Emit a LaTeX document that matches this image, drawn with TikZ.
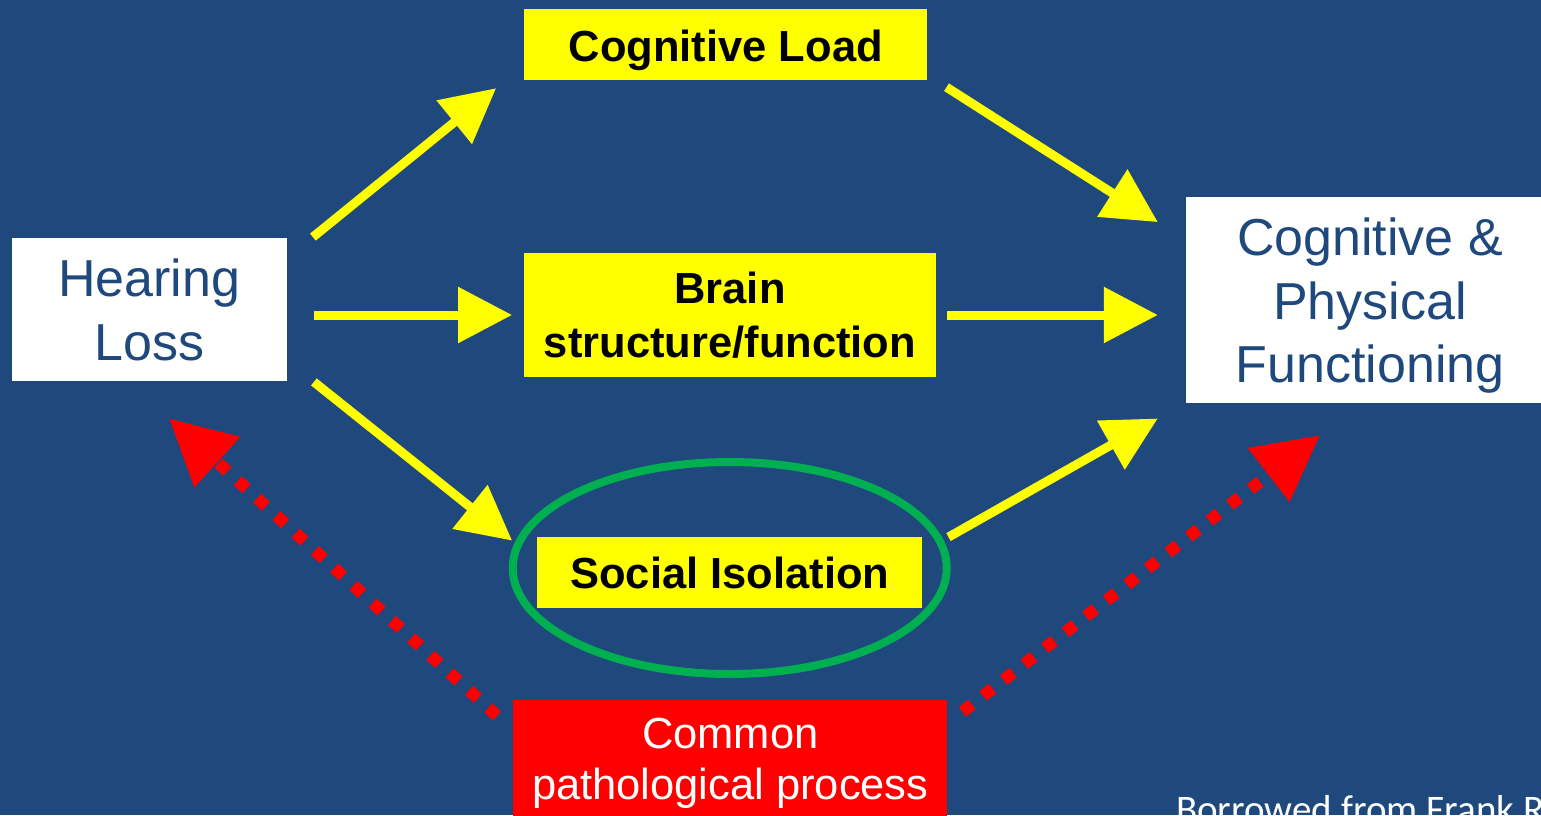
\documentclass[tikz,border=0pt]{standalone}
\usepackage{fontspec}
\setmainfont{Liberation Sans}
\newfontfamily\borrowfont{Carlito}
\usetikzlibrary{arrows.meta,shapes.geometric}
\definecolor{slideblue}{HTML}{1F497D}
\definecolor{boxyellow}{HTML}{FFFF00}
\definecolor{ringgreen}{HTML}{00B050}
\definecolor{procred}{HTML}{FF0000}

\begin{document}
\begin{tikzpicture}[x=1pt,y=-1pt]
\tikzstyle{every node}+=[inner sep=0pt]
\tikzstyle{whitebox}=[fill=white, text=slideblue, align=center, font={\fontsize{52}{63.5}\selectfont}]
\tikzstyle{yellowbox}=[fill=boxyellow, text=black, align=center, font={\fontsize{43.5}{54}\selectfont\bfseries}]
\tikzstyle{redbox}=[fill=procred, text=white, align=center, font={\fontsize{43.5}{51}\selectfont}]
\tikzstyle{yarrow}=[draw=boxyellow, line width=9pt, -{Triangle[length=54pt,width=54pt]}]
\tikzstyle{rarrow}=[draw=procred, line width=12pt, dash pattern=on 12pt off 14pt, -{Triangle[length=65pt,width=65pt]}]
\clip (0,0) rectangle (1541,815);
\fill [slideblue] (0,0) rectangle (1541,815);
\node [whitebox, minimum width=275pt, minimum height=142.4pt, text depth=0pt] (hl) at (149.2,309.5) {Hearing\\Loss};
\node [yellowbox, minimum width=403pt, minimum height=70.7pt, text height=34pt, text depth=0pt] (cl) at (725.8,44.65) {Cognitive Load};
\node [yellowbox, minimum width=411.4pt, minimum height=123.4pt, text depth=0pt] (bsf) at (730,315) {Brain\\structure/function};
\node [draw=ringgreen, line width=8pt, ellipse, minimum width=434pt, minimum height=212pt] (ring) at (729.75,568) {};
\node [yellowbox, minimum width=385pt, minimum height=70.4pt, text height=31.6pt, text depth=0pt] (si) at (729.8,572.5) {Social Isolation};
\node [whitebox, minimum width=368pt, minimum height=206pt, text depth=0pt] (cpf) at (1370,300.3) {Cognitive \&\\Physical\\Functioning};
\node [redbox, minimum width=434pt, minimum height=117.8pt, text depth=0pt] (cpp) at (730.3,758.9) {Common\\pathological process};
\node [anchor=base west, text=white, font={\borrowfont\fontsize{39}{47}\selectfont}] (src) at (1176,822) {Borrowed from Frank R};
\draw [yarrow] ([shift={(26,-1)}]hl.north east) -- ([shift={(-28,8)}]cl.south west);
\draw [yarrow] ([shift={(27,5.5)}]hl.east) -- ([shift={(-12,0)}]bsf.west);
\draw [yarrow] ([shift={(27,1)}]hl.south east) -- ([shift={(-25,3.5)}]si.north west);
\draw [yarrow] ([shift={(19,7)}]cl.south east) -- ([shift={(-28,25)}]cpf.north west);
\draw [yarrow] ([shift={(11,0)}]bsf.east) -- ([shift={(-28,14.7)}]cpf.west);
\draw [yarrow] ([shift={(26,0)}]si.north east) -- ([shift={(-28,15)}]cpf.south west);
\draw [rarrow] ([shift={(-16,16)}]cpp.north west) -- ([shift={(20,37.6)}]hl.south);
\draw [rarrow] ([shift={(15,12)}]cpp.north east) -- ([shift={(-50,31.7)}]cpf.south);
\end{tikzpicture}
\end{document}
